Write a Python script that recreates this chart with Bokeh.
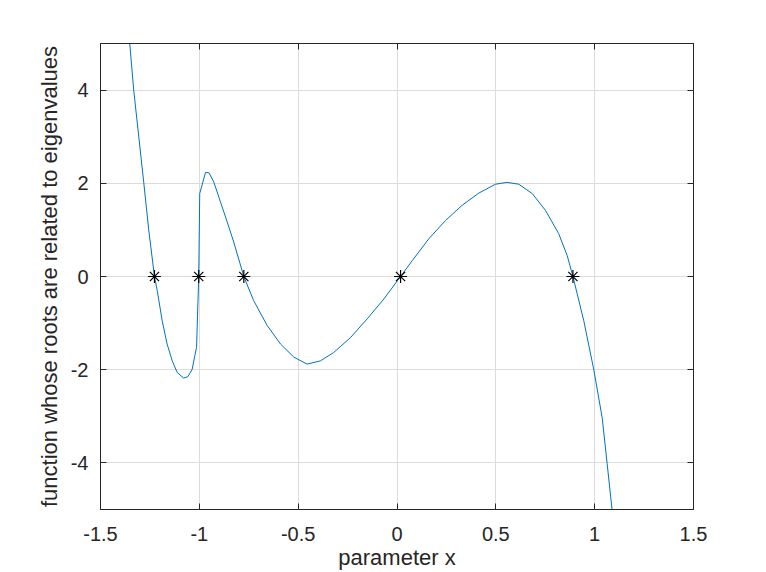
from bokeh.plotting import figure
from bokeh.models import LinearAxis, FixedTicker, Range1d
from bokeh.embed import file_html
from bokeh.resources import INLINE

# curve values
curve_x = [-1.352, -1.332, -1.281, -1.256, -1.227, -1.213, -1.188, -1.163, -1.137,
           -1.112, -1.079, -1.058, -1.036, -1.023, -1.014, -1.003, -0.998, -0.969,
           -0.952, -0.927, -0.893, -0.859, -0.826, -0.775, -0.725, -0.657, -0.589,
           -0.522, -0.455, -0.387, -0.320, -0.235, -0.151, -0.066, 0.018, 0.077,
           0.161, 0.245, 0.330, 0.414, 0.498, 0.557, 0.616, 0.684, 0.751, 0.818,
           0.861, 0.890, 0.945, 0.996, 1.038, 1.063, 1.088]
curve_y = [5.0, 4.0, 2.01, 1.0, 0.0, -0.30, -0.95, -1.45, -1.81,
           -2.06, -2.18, -2.15, -1.99, -1.70, -1.52, 0.0, 1.78, 2.23,
           2.23, 2.03, 1.60, 1.17, 0.74, 0.0, -0.52, -1.05, -1.45,
           -1.73, -1.88, -1.81, -1.63, -1.31, -0.91, -0.48, 0.0, 0.34,
           0.81, 1.20, 1.53, 1.79, 1.98, 2.02, 1.98, 1.78, 1.42, 0.92,
           0.45, 0.0, -0.95, -2.01, -3.03, -4.01, -5.0]
roots_x = [-1.227, -1.003, -0.775, 0.018, 0.890]
roots_y = [0, 0, 0, 0, 0]
x_ticks = [-1.5, -1, -0.5, 0, 0.5, 1, 1.5]
x_tick_labels = ["-1.5", "-1", "-0.5", "0", "0.5", "1", "1.5"]
y_ticks = [-4, -2, 0, 2, 4]
y_tick_labels = ["-4", "-2", "0", "2", "4"]
x_label = "parameter x"
y_label = "function whose roots are related to eigenvalues"

TXT = "#262626"
FONT = "Liberation Sans"

p = figure(width=766, height=572, output_backend="svg", toolbar_location=None,
           x_range=Range1d(-1.5, 1.5), y_range=Range1d(-5, 5),
           min_border_left=100, min_border_right=73, min_border_top=43,
           min_border_bottom=63)
p.outline_line_color = TXT
p.outline_line_width = 1
p.background_fill_color = "white"
p.border_fill_color = "white"

p.line(curve_x, curve_y, line_color="#0072BD", line_width=1)
p.scatter(roots_x, roots_y, marker="asterisk", size=13, line_color="black",
          line_width=1.2)

for ax, lab, ticks, tl in ((p.xaxis[0], x_label, x_ticks, x_tick_labels),
                           (p.yaxis[0], y_label, y_ticks, y_tick_labels)):
    ax.ticker = FixedTicker(ticks=ticks)
    ax.major_label_overrides = dict(zip(ticks, tl))
    ax.axis_label = lab
    ax.axis_label_text_font = FONT
    ax.axis_label_text_font_size = "22px"
    ax.axis_label_text_font_style = "normal"
    ax.axis_label_text_color = TXT
    ax.major_label_text_font = FONT
    ax.major_label_text_font_size = "20px"
    ax.major_label_text_color = TXT
    ax.axis_line_color = TXT
    ax.major_tick_line_color = TXT
    ax.major_tick_in = 6
    ax.major_tick_out = 0
    ax.minor_tick_line_color = None
p.xaxis[0].major_label_standoff = 17
p.xaxis[0].axis_label_standoff = 1
p.yaxis[0].major_label_standoff = 12
p.yaxis[0].axis_label_standoff = 6

top = LinearAxis(ticker=FixedTicker(ticks=x_ticks), major_label_text_font_size="0px",
                 major_tick_in=6, major_tick_out=0, minor_tick_line_color=None,
                 axis_line_color=TXT, major_tick_line_color=TXT, major_label_standoff=0)
right = LinearAxis(ticker=FixedTicker(ticks=y_ticks), major_label_text_font_size="0px",
                   major_tick_in=6, major_tick_out=0, minor_tick_line_color=None,
                   axis_line_color=TXT, major_tick_line_color=TXT, major_label_standoff=0)
top.major_label_overrides = {t: "" for t in x_ticks}
right.major_label_overrides = {t: "" for t in y_ticks}
p.add_layout(top, "above")
p.add_layout(right, "right")

p.xgrid.ticker = FixedTicker(ticks=x_ticks)
p.ygrid.ticker = FixedTicker(ticks=y_ticks)
p.grid.grid_line_color = "#dcdcdc"
p.grid.grid_line_width = 1

open("out.html", "w").write(file_html(p, INLINE))
